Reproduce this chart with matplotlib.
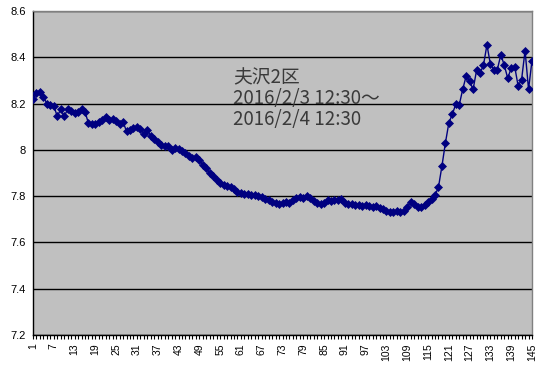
#!/usr/bin/env python3
# -*- coding: utf-8 -*-
"""
夫沢2区 pH の推移 (2016/2/3 12:30 ~ 2016/2/4 12:30)
"""

import numpy as np
import matplotlib
matplotlib.use('Agg')
import matplotlib.pyplot as plt

# データ番号 1..145
points = np.arange(1, 146)

values = [
    8.220, 8.245, 8.250, 8.230, 8.200, 8.195, 8.190, 8.145, 8.175, 8.145,
    8.175, 8.170, 8.160, 8.165, 8.175, 8.165, 8.115, 8.110, 8.110, 8.120,
    8.130, 8.140, 8.130, 8.135, 8.125, 8.110, 8.120, 8.080, 8.085, 8.095,
    8.100, 8.090, 8.070, 8.085, 8.060, 8.045, 8.035, 8.020, 8.015, 8.015,
    8.000, 8.010, 8.005, 7.995, 7.985, 7.975, 7.965, 7.970, 7.955, 7.935,
    7.920, 7.900, 7.885, 7.870, 7.855, 7.848, 7.845, 7.840, 7.830, 7.820,
    7.812, 7.810, 7.808, 7.806, 7.805, 7.800, 7.795, 7.788, 7.782, 7.776,
    7.770, 7.765, 7.772, 7.775, 7.772, 7.782, 7.790, 7.795, 7.792, 7.800,
    7.790, 7.778, 7.770, 7.765, 7.772, 7.782, 7.780, 7.783, 7.782, 7.786,
    7.772, 7.766, 7.764, 7.762, 7.762, 7.758, 7.762, 7.756, 7.752, 7.758,
    7.748, 7.743, 7.736, 7.733, 7.733, 7.735, 7.733, 7.736, 7.752, 7.776,
    7.768, 7.752, 7.752, 7.762, 7.775, 7.786, 7.804, 7.838, 7.929, 8.029,
    8.116, 8.154, 8.197, 8.194, 8.261, 8.319, 8.297, 8.261, 8.343, 8.331,
    8.366, 8.454, 8.369, 8.347, 8.347, 8.411, 8.366, 8.309, 8.354, 8.360,
    8.276, 8.304, 8.429, 8.261, 8.386,
]

y_ticks = [7.2, 7.4, 7.6, 7.8, 8.0, 8.2, 8.4, 8.6]
y_tick_labels = ['7.2', '7.4', '7.6', '7.8', '8', '8.2', '8.4', '8.6']
x_tick_labels = [str(i) for i in range(1, 146, 6)]

note = '夫沢2区\n2016/2/3 12:30～\n2016/2/4 12:30'

W, H = 539, 369
fig = plt.figure(figsize=(W / 100, H / 100), dpi=100)
ax = fig.add_axes([33 / W, 1 - 335 / H, (532 - 33) / W, (335 - 11) / H])
ax.set_facecolor('#C0C0C0')

ax.plot(points, values, color='#000080', linewidth=1.0,
        marker='D', markersize=3.6, markeredgewidth=0.5, zorder=3)

ax.set_xlim(1, 145)
ax.set_ylim(7.2, 8.6)

ax.set_yticks(y_ticks)
ax.set_yticklabels(y_tick_labels, fontsize=8, family='Liberation Sans')
ax.tick_params(axis='y', length=0, pad=5)

# 各データ点に目盛り、ラベルは6個おき
ax.set_xticks(points, minor=True)
ax.set_xticks(list(range(1, 146, 6)))
ax.set_xticklabels(x_tick_labels, rotation=90, fontsize=7.5, family='Liberation Sans')
ax.tick_params(axis='x', which='both', length=3, width=0.8, direction='out', pad=3)

ax.grid(axis='y', color='black', linewidth=1.0)
ax.set_axisbelow(True)

for side in ['left', 'bottom']:
    ax.spines[side].set_color('black')
    ax.spines[side].set_linewidth(1.0)
for side in ['top', 'right']:
    ax.spines[side].set_color('#808080')
    ax.spines[side].set_linewidth(1.0)

ax.text(233 / W, 1 - 67 / H, note, transform=fig.transFigure,
        fontsize=13.5, family=['Noto Sans CJK JP', 'DejaVu Sans'],
        color='#3a3a3a', va='top', ha='left', linespacing=1.0)

fig.savefig('out.png', dpi=100)
